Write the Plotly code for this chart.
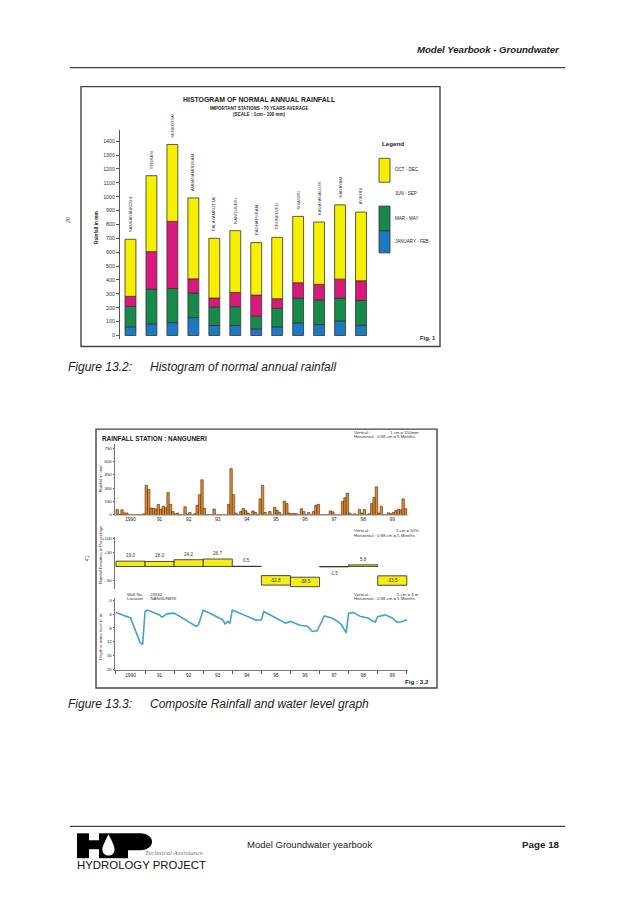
import plotly.graph_objects as go

W, H = 638, 903
SANS = "Liberation Sans, Arial, sans-serif"
SERIF = "Liberation Serif, Times New Roman, serif"


def X(p):
    return p / W


def Y(p):
    return 1 - p / H


# ---------------- Figure 13.2 data ----------------
stations = ["SANKARANKOVIL", "TENKASI", "SENKOTTAI", "AMBASAMUDRAM", "PALAYAMKOTTAI",
            "NANGUNERI", "RADHAPURAM", "TIRUNELVELI", "SIVAGIRI", "KADAYANALLUR",
            "KADAYAM", "AYIKUDI"]
jan_feb = [62, 84, 93, 129, 72, 72, 48, 62, 91, 79, 105, 74]
mar_may = [148, 250, 246, 177, 133, 136, 91, 134, 179, 177, 165, 179]
jun_sep = [72, 270, 483, 102, 65, 102, 152, 69, 110, 112, 136, 141]
oct_dec = [411, 547, 554, 583, 430, 445, 378, 442, 478, 449, 535, 495]
season_names = ["JANUARY - FEB", "MAR - MAY", "JUN - SEP", "OCT - DEC"]
rain_ticks = list(range(0, 1401, 100))

# ---------------- Figure 13.3 data ----------------
years = ["1990", "91", "92", "93", "94", "95", "96", "97", "98", "99"]
monthly_rain = [
    60, 5, 55, 20, 20, 0, 0, 0, 0, 0, 0, 10,          # 1990
    330, 285, 75, 70, 65, 115, 60, 95, 78, 250, 118, 35,  # 1991
    10, 18, 0, 0, 89, 5, 25, 0, 10, 107, 225, 393,    # 1992
    71, 0, 0, 0, 64, 0, 0, 0, 0, 0, 118, 518,         # 1993
    225, 18, 0, 35, 71, 46, 18, 0, 43, 25, 0, 178,    # 1994
    330, 25, 0, 35, 0, 82, 50, 25, 0, 153, 125, 18,   # 1995
    10, 15, 10, 0, 68, 35, 0, 25, 0, 35, 107, 118,    # 1996
    0, 0, 0, 0, 43, 32, 0, 0, 0, 150, 190, 243,       # 1997
    18, 0, 10, 0, 60, 18, 60, 0, 10, 125, 196, 314,   # 1998
    20, 96, 0, 0, 21, 10, 25, 46, 60, 55, 178, 68,    # 1999
]
deviation = [19.0, 18.0, 24.2, 26.7, 0.5, -32.8, -38.5, -1.5, 5.8, -33.5]
wl_month = [0, 6, 10, 11, 12, 13, 18, 19, 21, 24, 26, 30, 33, 34, 36, 44, 45, 46, 47, 48,
            58, 60, 61, 66, 70, 72, 75, 76, 79, 81, 83, 84, 86, 89, 91, 93, 95, 96, 98,
            101, 104, 106, 107, 108, 111, 114, 116, 118, 120]
wl_depth = [3.5, 5.1, 12.3, 12.8, 3.2, 2.8, 4.2, 4.9, 3.9, 3.7, 4.5, 6.1, 7.5, 7.1, 2.8,
            5.6, 6.8, 6.1, 6.6, 2.8, 5.8, 5.6, 3.2, 5.1, 6.6, 6.1, 7.0, 7.2, 7.5, 9.0, 8.8,
            7.5, 4.5, 5.1, 5.9, 7.0, 9.4, 3.7, 3.5, 4.7, 5.1, 6.0, 6.3, 4.7, 4.2, 5.1, 6.3,
            6.2, 5.6]

# ---------------- styles ----------------
season_colors = ["#1E78C2", "#17894A", "#D81A7D", "#F7EF00"]
EDGE = "#333333"
BOX_H = 34  # height of the offset boxes drawn for large deficits

fig = go.Figure()

# ---- Figure 13.2: stacked seasonal bars ----
series = [jan_feb, mar_may, jun_sep, oct_dec]
cum = [0] * len(stations)
for name, vals, col in zip(season_names, series, season_colors):
    fig.add_trace(go.Bar(x=stations, y=vals, base=list(cum), name=name, width=0.52,
                         marker=dict(color=col, line=dict(color=EDGE, width=0.8)),
                         xaxis="x", yaxis="y"))
    cum = [c + v for c, v in zip(cum, vals)]
totals = cum

# ---- Figure 13.3: monthly rainfall ----
month_pos = [i + 0.5 for i in range(len(monthly_rain))]
fig.add_trace(go.Bar(x=month_pos, y=monthly_rain, width=1.0,
                     marker=dict(color="#E4892F", line=dict(color="#4A2A10", width=0.6)),
                     xaxis="x2", yaxis="y2"))

# ---- deviation boxes ----
year_pos = [12 * k + 6 for k in range(len(years))]
dev_base = [0 if v > -10 else v for v in deviation]
dev_height = [v if v > -10 else -BOX_H for v in deviation]
fig.add_trace(go.Bar(x=year_pos, y=dev_height, base=dev_base, width=12,
                     marker=dict(color="#F5EC1C", line=dict(color="#222", width=0.8)),
                     xaxis="x3", yaxis="y3"))

# ---- water level line ----
fig.add_trace(go.Scatter(x=wl_month, y=wl_depth, mode="lines",
                         line=dict(color="#3FA3CF", width=1.6),
                         xaxis="x4", yaxis="y4"))

ann = []


def T(text, x, y, size, xa="left", ya="middle", angle=0, color="#222", family=SANS):
    ann.append(dict(text=text, x=X(x), y=Y(y), xref="paper", yref="paper",
                    showarrow=False, xanchor=xa, yanchor=ya, textangle=angle,
                    font=dict(size=size, color=color, family=family)))


# station names above bars
for s, t in zip(stations, totals):
    ann.append(dict(text=s, x=s, y=t, xref="x", yref="y", showarrow=False,
                    textangle=-90, xanchor="center", yanchor="bottom", yshift=5,
                    font=dict(size=4.3, color="#444", family=SANS)))

# deviation labels
for xp, v in zip(year_pos, deviation):
    if v >= 0:
        ann.append(dict(text=f"{v:.1f}", x=xp, y=v, xref="x3", yref="y3", showarrow=False,
                        yanchor="bottom", yshift=1, font=dict(size=4.6, color="#333", family=SANS)))
    elif v > -10:
        ann.append(dict(text=f"{v:.1f}", x=xp, y=v, xref="x3", yref="y3", showarrow=False,
                        yanchor="top", yshift=-2, font=dict(size=4.6, color="#333", family=SANS)))
    else:
        ann.append(dict(text=f"{v:.1f}", x=xp, y=v - BOX_H / 2, xref="x3", yref="y3",
                        showarrow=False, yanchor="middle",
                        font=dict(size=4.6, color="#333", family=SANS)))

# page header / footer
T("<b><i>Model Yearbook - Groundwater</i></b>", 562, 49, 9.6, xa="right")
T("<i>Figure 13.2:</i>", 66, 368, 12)
T("<i>Histogram of normal annual rainfall</i>", 148, 368, 12)
T("<i>Figure 13.3:</i>", 66, 706, 12)
T("<i>Composite Rainfall and water level graph</i>", 148, 706, 12)
T("Model Groundwater yearbook", 245, 847, 9.5)
T("<b>Page 18</b>", 562, 847, 9.8, xa="right")
T("<i>Technical Assistance</i>", 205, 856, 7.0, xa="right", color="#777", family=SERIF)
T("HYDROLOGY PROJECT", 75, 867.5, 11.4, color="#111")

# chart 1 texts
T("<b>HISTOGRAM OF NORMAL ANNUAL RAINFALL</b>", 259, 99, 6.9, xa="center")
T("<b>IMPORTANT STATIONS - 70 YEARS AVERAGE</b>", 259, 108, 4.5, xa="center")
T("<b>(SCALE : 1cm - 100 mm)</b>", 259, 114.5, 4.5, xa="center")
T("<b>Rainfall in mm</b>", 97, 227, 4.8, xa="center", angle=-90)
T("20", 68, 220, 5.5, xa="center", angle=-90, color="#444")
T("<b>Fig. 1</b>", 418, 339, 5.8)
T("<b>Legend</b>", 380, 143, 6.2)
T("OCT - DEC", 393, 169, 4.5)
T("JUN - SEP", 393, 193, 4.5)
T("MAR - MAY", 393, 218, 4.5)
T("JANUARY - FEB", 393, 242, 4.5)

# chart 2 texts
T("<b>RAINFALL STATION : NANGUNERI</b>", 100, 439, 6.4)
T("41", 87, 560, 5.5, xa="center", angle=-90, color="#444")
T("Rainfall in 'mm'", 100.5, 480, 4.1, xa="center", angle=-90, color="#333")
T("Rainfall Deviation in Percentage", 100.5, 556, 4.1, xa="center", angle=-90, color="#333")
T("Depth to water level in 'm'", 100.5, 638, 4.1, xa="center", angle=-90, color="#333")
for yy, v1, v2 in [(433, "1 cm = 150mm", "0.88 cm = 5 Months"),
                   (532, "1 cm = 50%", "0.88 cm = 5 Months"),
                   (596, "1 cm = 4 m", "0.88 cm = 5 Months")]:
    T("Vertical :", 352, yy, 4.3, color="#333")
    T(v1, 421, yy, 4.3, xa="right", color="#333")
    T("Horizontal : " + v2, 352, yy + 4.6, 4.3, color="#333")
T("Well No.   :  03562", 125, 596, 4.3, color="#333")
T("Location   :  NANGUNERI", 125, 600.6, 4.3, color="#333")
T("<b>Fig : 3.2</b>", 403, 684, 6.2)

# ---- shapes: frames, rules, legend swatches, logo ----
shapes = []


def R(x0, y0, x1, y1, fill=None, line="#444", lw=1.2):
    shapes.append(dict(type="rect", xref="paper", yref="paper", x0=X(x0), x1=X(x1),
                       y0=Y(y1), y1=Y(y0), fillcolor=fill if fill else "rgba(0,0,0,0)",
                       line=dict(color=line, width=lw)))


def L(x0, y0, x1, y1, color="#111", lw=1):
    shapes.append(dict(type="line", xref="paper", yref="paper", x0=X(x0), x1=X(x1),
                       y0=Y(y0), y1=Y(y1), line=dict(color=color, width=lw)))


R(81, 86, 440, 347, lw=1.4)
R(96, 430, 437, 690, lw=1.4)
L(70, 67, 565, 67)
L(70, 829, 565, 829)
# legend swatches
R(379, 158, 390, 182, fill=season_colors[3], line=EDGE, lw=0.8)
R(379, 206, 390, 231, fill=season_colors[1], line=EDGE, lw=0.8)
R(379, 231, 390, 253, fill=season_colors[0], line=EDGE, lw=0.8)
# logo (H + drop + P)
R(77, 836, 89, 861, fill="#000", line="#000", lw=0)
R(89, 843, 100, 852, fill="#000", line="#000", lw=0)
R(99, 836, 118, 861, fill="#000", line="#000", lw=0)
shapes.append(dict(type="path", xref="paper", yref="paper",
                   path=f"M {X(108.5)},{Y(837)} C {X(104)},{Y(846)} {X(102)},{Y(850)} {X(102.5)},{Y(853)} "
                        f"C {X(103)},{Y(860)} {X(114)},{Y(860)} {X(114.5)},{Y(853)} "
                        f"C {X(115)},{Y(850)} {X(113)},{Y(846)} {X(108.5)},{Y(837)} Z",
                   fillcolor="#fff", line=dict(color="#fff", width=0)))
shapes.append(dict(type="path", xref="paper", yref="paper",
                   path=f"M {X(118)},{Y(836)} L {X(140)},{Y(836)} C {X(156)},{Y(836)} {X(156)},{Y(853)} {X(140)},{Y(853)} "
                        f"L {X(128)},{Y(853)} L {X(128)},{Y(861)} L {X(118)},{Y(861)} Z",
                   fillcolor="#000", line=dict(color="#000", width=0)))

xtickfont = dict(size=4.8, color="#222", family=SANS)
ytickfont = dict(size=4.4, color="#222", family=SANS)
month_range = [-0.4, 120.5]
year_edges = [12 * k for k in range(len(years) + 1)]

fig.update_layout(
    width=W, height=H, margin=dict(l=0, r=0, t=0, b=0),
    paper_bgcolor="white", plot_bgcolor="rgba(0,0,0,0)",
    showlegend=False, barmode="overlay", bargap=0,
    font=dict(family=SANS),
    annotations=ann, shapes=shapes,
    xaxis=dict(domain=[X(120), X(371.5)], range=[-0.5, 11.5], anchor="y",
               showticklabels=False, ticks="", showline=False, showgrid=False,
               zeroline=False, categoryorder="array", categoryarray=stations),
    yaxis=dict(domain=[Y(339.5), Y(130)], range=[-25, 1477], anchor="x",
               tickvals=rain_ticks, ticks="outside", ticklen=3, tickcolor="#555",
               showline=True, linecolor="#555", linewidth=1, showgrid=False, zeroline=False,
               tickfont=dict(size=5.3, color="#333", family=SANS)),
    xaxis2=dict(domain=[X(115), X(408)], range=month_range, anchor="y2",
                tickvals=year_pos, ticktext=years, ticks="", tickfont=xtickfont,
                showline=True, linecolor="#999", linewidth=0.6, showgrid=False, zeroline=False),
    yaxis2=dict(domain=[Y(516), Y(445)], range=[0, 795], anchor="x2",
                tickvals=[0, 150, 300, 450, 600, 750], ticks="outside", ticklen=1.5,
                tickcolor="#555", showline=True, linecolor="#555", linewidth=0.8,
                showgrid=False, zeroline=False, tickfont=ytickfont),
    xaxis3=dict(domain=[X(115), X(408)], range=month_range, anchor="y3",
                showticklabels=False, ticks="", showline=False, showgrid=False, zeroline=False),
    yaxis3=dict(domain=[Y(590.4), Y(538)], range=[-80, 107], anchor="x3",
                tickvals=[100, 50, -50], ticktext=["+100", "+50", "-50"], ticks="outside",
                ticklen=1.5, tickcolor="#555", showline=True, linecolor="#555", linewidth=0.8,
                showgrid=False, zeroline=False, tickfont=ytickfont),
    xaxis4=dict(domain=[X(115), X(408)], range=month_range, anchor="y4",
                tickvals=year_pos, ticktext=years, ticks="", tickfont=xtickfont,
                minor=dict(tickvals=year_edges, ticks="outside", ticklen=3, tickcolor="#555"),
                showline=True, linecolor="#555", linewidth=0.8, showgrid=False, zeroline=False),
    yaxis4=dict(domain=[Y(672), Y(600)], range=[20.2, -0.6], anchor="x4",
                tickvals=[0, 4, 8, 12, 16, 20], ticks="outside", ticklen=1.5, tickcolor="#555",
                showline=True, linecolor="#555", linewidth=0.8, showgrid=False,
                zeroline=False, tickfont=ytickfont),
)

fig.write_html("out.html", config={"displayModeBar": False, "staticPlot": True},
               post_script="document.body.style.margin='0px';")
